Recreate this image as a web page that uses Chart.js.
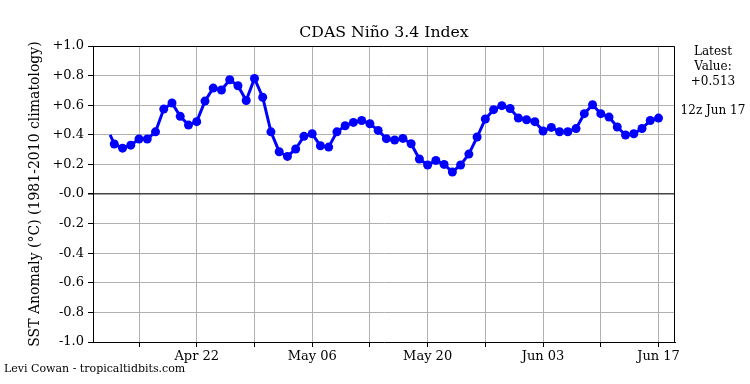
<!DOCTYPE html>
<html><head><meta charset="utf-8">
<script src="https://cdn.jsdelivr.net/npm/chart.js@4"></script>
<style>html,body{margin:0;padding:0;background:#fff}</style>
</head><body>
<canvas id="c" width="750" height="384"></canvas>
<script>
// ---- data ----
const baseDate = '2024-04-22T00:00:00Z';   // day 0 (Apr 22)
const firstDate = '2024-04-12T00:00:00Z';  // first daily marker
const leadDate = '2024-04-11T12:00:00Z';   // unmarked line start
const leadValue = 0.40;
const anomalies = [
  0.338, 0.310, 0.330, 0.372, 0.372, 0.420, 0.574, 0.615, 0.525, 0.466,
  0.489, 0.628, 0.716, 0.703, 0.772, 0.732, 0.632, 0.781, 0.654, 0.420,
  0.286, 0.254, 0.304, 0.390, 0.407, 0.326, 0.317, 0.420, 0.461, 0.484,
  0.497, 0.475, 0.430, 0.374, 0.365, 0.376, 0.340, 0.237, 0.196, 0.227,
  0.200, 0.149, 0.196, 0.270, 0.385, 0.507, 0.570, 0.597, 0.578, 0.514,
  0.502, 0.489, 0.426, 0.450, 0.421, 0.421, 0.442, 0.543, 0.603, 0.543,
  0.520, 0.453, 0.399, 0.407, 0.443, 0.497, 0.513
];
const xTickDates = ['2024-04-15','2024-04-22','2024-04-29','2024-05-06','2024-05-13',
                    '2024-05-20','2024-05-27','2024-06-03','2024-06-10','2024-06-17'];
const xTickLabels = ['', 'Apr 22', '', 'May 06', '', 'May 20', '', 'Jun 03', '', 'Jun 17'];
const xRangeDays = [-12.58, 58.0];
const yTicks = [-1.0, -0.8, -0.6, -0.4, -0.2, 0.0, 0.2, 0.4, 0.6, 0.8, 1.0];
const yTickLabels = ['-1.0','-0.8','-0.6','-0.4','-0.2','-0.0','+0.2','+0.4','+0.6','+0.8','+1.0'];
const titleText = 'CDAS Niño 3.4 Index';
const yTitleText = 'SST Anomaly (°C) (1981-2010 climatology)';
const latestLabel = ['Latest', 'Value:'];
const latestTime = '12z Jun 17';
const creditText = 'Levi Cowan - tropicaltidbits.com';

// ---- helpers ----
const DAY = 86400000;
const base = Date.parse(baseDate);
const toDay = s => (Date.parse(s.length === 10 ? s + 'T00:00:00Z' : s) - base) / DAY;
const first = toDay(firstDate);
const points = [{x: toDay(leadDate), y: leadValue}]
  .concat(anomalies.map((v, i) => ({x: first + i, y: v})));
const xTickDays = xTickDates.map(toDay);
const FONT = 'DejaVu Serif';

const extras = {
  id: 'extras',
  afterDraw(chart) {
    const {ctx, chartArea: a} = chart;
    ctx.save();
    ctx.strokeStyle = '#000';
    ctx.lineWidth = 1;
    ctx.beginPath();
    const t = Math.round(a.top) + 0.5, r = Math.round(a.right) - 0.5;
    ctx.moveTo(Math.round(a.left), t); ctx.lineTo(r, t); ctx.lineTo(r, Math.round(a.bottom));
    ctx.stroke();
    ctx.fillStyle = '#000';
    ctx.font = '12px "' + FONT + '"';
    ctx.textAlign = 'center';
    ctx.textBaseline = 'middle';
    const last = anomalies[anomalies.length - 1];
    const lines = latestLabel.concat([(last >= 0 ? '+' : '-') + Math.abs(last).toFixed(3)]);
    lines.forEach((s, i) => ctx.fillText(s, 713, 52 + i * 15));
    ctx.fillText(latestTime, 713, 111);
    ctx.font = '11px "' + FONT + '"';
    ctx.textAlign = 'left';
    ctx.fillText(creditText, 4, 369);
    ctx.restore();
  }
};

new Chart(document.getElementById('c'), {
  type: 'line',
  data: { datasets: [{
    data: points,
    borderColor: '#0000ff',
    backgroundColor: '#0000ff',
    borderWidth: 3,
    pointRadius: ctx => ctx.dataIndex === 0 ? 0 : 4.5,
    pointBorderWidth: 0,
    pointBackgroundColor: '#0000ff',
    tension: 0,
    fill: false
  }]},
  options: {
    responsive: false,
    animation: false,
    devicePixelRatio: 1,
    layout: { padding: { left: 0, right: 75, top: 0, bottom: 0 } },
    plugins: {
      legend: { display: false },
      tooltip: { enabled: false },
      title: {
        display: true, text: titleText, fullSize: false, color: '#000',
        font: { family: FONT, size: 15.7, weight: 'normal' },
        padding: { top: 23.6, bottom: 3.6 }
      }
    },
    scales: {
      x: {
        type: 'linear', min: xRangeDays[0], max: xRangeDays[1],
        afterBuildTicks: s => { s.ticks = xTickDays.map(v => ({value: v})); },
        ticks: { autoSkip: false, maxRotation: 0, color: '#000', padding: 2,
                 font: { family: FONT, size: 13 },
                 callback: (v, i) => xTickLabels[i] },
        grid: { color: '#b0b0b0', lineWidth: 1, tickLength: 5, tickColor: '#000' },
        border: { color: '#000', width: 1 },
        afterFit: s => { s.height = 42; }
      },
      y: {
        min: -1, max: 1,
        afterBuildTicks: s => { s.ticks = yTicks.map(v => ({value: v})); },
        ticks: { color: '#000', padding: 4, font: { family: FONT, size: 13 },
                 callback: (v, i) => yTickLabels[i] },
        grid: {
          color: c => (c.tick && Math.abs(c.tick.value) < 1e-9) ? '#444' : '#b0b0b0',
          lineWidth: c => (c.tick && Math.abs(c.tick.value) < 1e-9) ? 1.5 : 1,
          tickLength: 5, tickColor: '#000'
        },
        border: { color: '#000', width: 1 },
        title: { display: true, text: yTitleText, color: '#000',
                 font: { family: FONT, size: 14 }, padding: { top: 27, bottom: 0 } },
        afterFit: s => { s.width = 93; }
      }
    }
  },
  plugins: [extras]
});
</script>
</body></html>
